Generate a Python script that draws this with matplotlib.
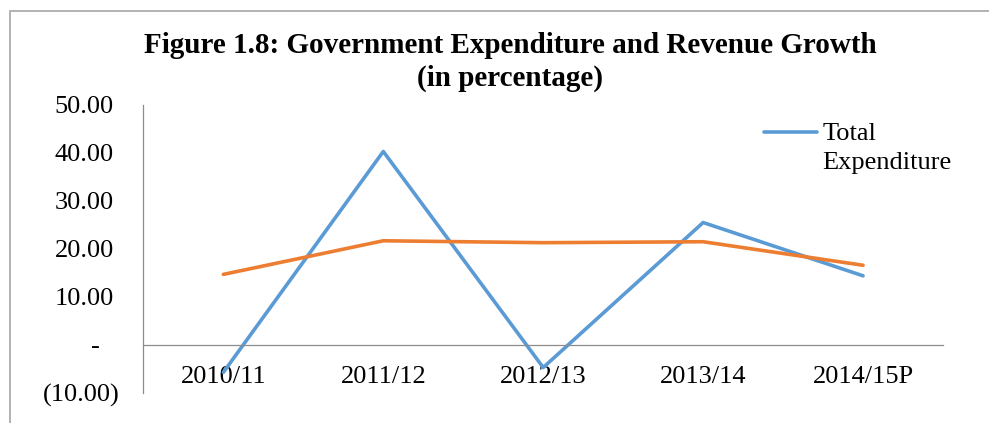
import numpy as np
import matplotlib
matplotlib.use("Agg")
import matplotlib.pyplot as plt
import matplotlib.transforms as mtransforms
from matplotlib.patches import Rectangle

# Government expenditure / revenue growth, percent
YEARS = ["2010/11", "2011/12", "2012/13", "2013/14", "2014/15P"]
EXPENDITURE = [-5.7, 40.3, -4.7, 25.5, 14.4]
REVENUE = [14.7, 21.7, 21.3, 21.5, 16.6]
Y_TICKS = [-10, 0, 10, 20, 30, 40, 50]

BLUE = "#5B9BD5"
ORANGE = "#ED7D31"
GREY = "#8C8C8C"
FS = 19

plt.rcParams["font.family"] = ["Liberation Serif", "DejaVu Serif"]


def accounting(v):
    # excel accounting style: (10.00), -, 50.00
    if v < 0:
        return "({:.2f})".format(abs(v))
    if v == 0:
        return "-"
    return "{:.2f}".format(v)


fig = plt.figure(figsize=(9.89, 4.23), dpi=100)
ax = fig.add_axes([0.145, 0.071, 0.8085, 0.681])

x = np.arange(len(YEARS))
l_exp, = ax.plot(x, EXPENDITURE, color=BLUE, lw=2.6, solid_capstyle="round",
                 label="Total\nExpenditure")
ax.plot(x, REVENUE, color=ORANGE, lw=2.6, solid_capstyle="round",
        label="Total Revenue")

ax.set_xlim(-0.5, len(YEARS) - 0.5)
ax.set_ylim(-10, 50)
ax.set_yticks(Y_TICKS)
ax.set_yticklabels([accounting(v) for v in Y_TICKS])
ax.set_xticks(x)
ax.set_xticklabels(YEARS)
ax.tick_params(axis="both", length=0, labelsize=FS)
ax.tick_params(axis="y", pad=17)
ax.tick_params(axis="x", pad=15)

# positive labels and the dash sit left of the bracket column
for lab, v in zip(ax.get_yticklabels(), Y_TICKS):
    if v > 0:
        dx = -6 / 100
    elif v == 0:
        dx = -20 / 100
    else:
        dx = 0
    lab.set_transform(lab.get_transform() +
                      mtransforms.ScaledTranslation(dx, 0, fig.dpi_scale_trans))

for side in ["top", "right"]:
    ax.spines[side].set_visible(False)
ax.spines["bottom"].set_position(("data", 0))
ax.spines["left"].set_color(GREY)
ax.spines["bottom"].set_color(GREY)
ax.spines["left"].set_linewidth(0.9)
ax.spines["bottom"].set_linewidth(0.9)

# only the first entry fits in the legend box
leg = ax.legend(handles=[l_exp], loc="upper left", bbox_to_anchor=(0.763, 0.975),
                frameon=False, fontsize=FS, handlelength=2.0, handletextpad=0.2,
                borderaxespad=0.0)
leg.get_texts()[0].set_linespacing(1.45)
# line swatch level with the first text line
hl = leg.legend_handles[0]
hl.set_ydata(np.asarray(hl.get_ydata()) + 11.5)

fig.text(0.516, 0.925,
         "Figure 1.8: Government Expenditure and Revenue Growth\n(in percentage)",
         ha="center", va="top", fontsize=21, fontweight="bold",
         linespacing=1.3)

# chart area border
fig.patches.append(Rectangle((10 / 989, -0.2), 1.2, 1.2 - 11 / 423,
                             transform=fig.transFigure, fill=False,
                             edgecolor="#A6A6A6", lw=1.2))

fig.savefig("out.png", dpi=100)
